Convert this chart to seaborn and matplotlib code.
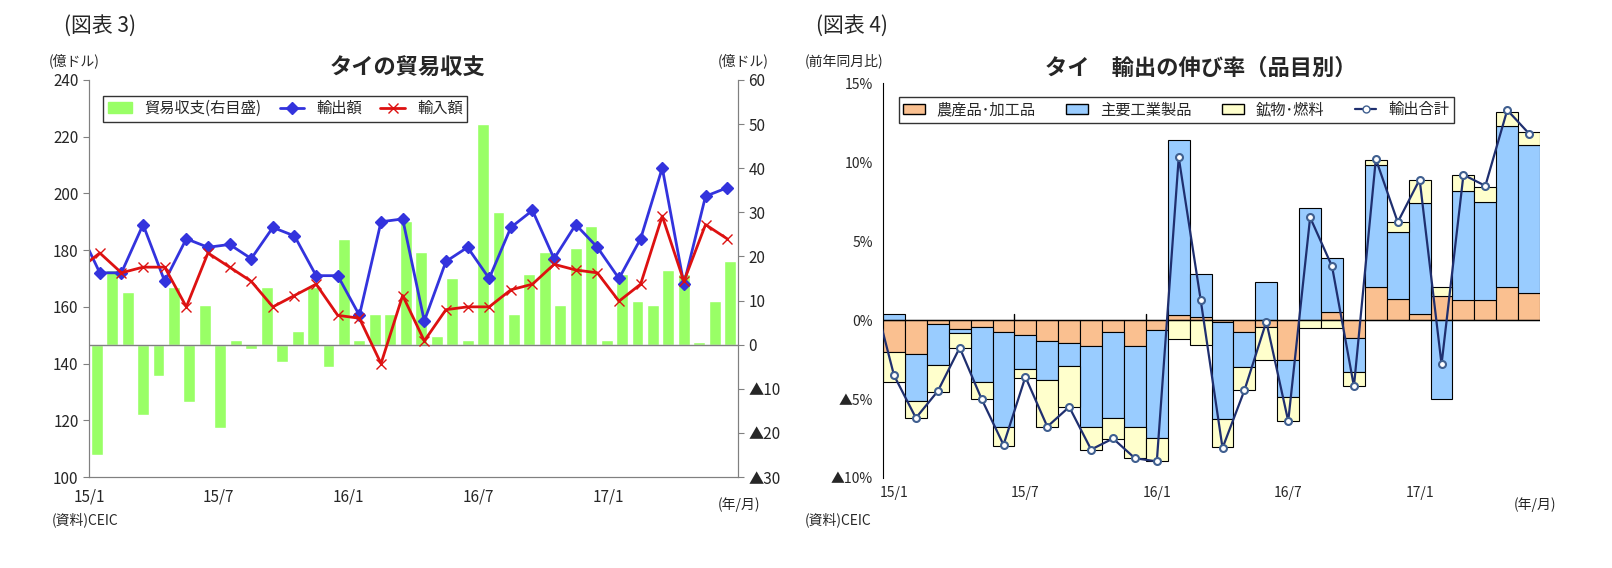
import matplotlib
matplotlib.use("Agg")
import matplotlib.pyplot as plt
import seaborn as sns
import numpy as np
from matplotlib.patches import Patch
from matplotlib.lines import Line2D

sns.set_style("white")
plt.rcParams["font.family"] = ["Noto Sans CJK JP", "DejaVu Sans"]

# ---- Chart 3 data ----
tick_labels = ["15/1", "15/7", "16/1", "16/7", "17/1"]
exports = [188, 172, 172, 189, 169, 184, 181, 182, 177, 188, 185, 171, 171, 157, 190, 191,
           155, 176, 181, 170, 188, 194, 177, 189, 181, 170, 184, 209, 168, 199, 202]
imports = [173, 179, 172, 174, 174, 160, 179, 174, 169, 160, 164, 168, 157, 156, 140, 164,
           148, 159, 160, 160, 166, 168, 175, 173, 172, 162, 168, 192, 169, 189, 184]
balance = [-25, 17, 12, -16, -7, 13, -13, 9, -19, 1, -1, 13, -4, 3, 13, -5, 24, 1, 7, 7, 28,
           21, 2, 15, 1, 50, 30, 7, 16, 21, 9, 22, 27, 1, 16, 10, 9, 17, 16, 0.5, 10, 19]

# ---- Chart 4 data ----
agri = [-2.0, -2.15, -0.25, -0.55, -0.45, -0.75, -0.95, -1.3, -1.45, -1.65, -0.75, -1.65, -0.6,
        0.3, 0.2, -0.15, -0.75, -0.45, -2.5, 0.02, 0.5, -1.15, 2.1, 1.35, 0.4, 1.5, 1.25, 1.25, 2.1, 1.7]
ind = [0.4, -2.95, -2.6, -0.3, -3.45, -6.05, -2.15, -2.5, -1.45, -5.1, -5.45, -5.15, -6.85,
       11.1, 2.7, -6.1, -2.2, 2.4, -2.4, 7.1, 3.4, -2.15, 7.75, 4.2, 7.0, -5.0, 6.95, 6.25, 10.2, 9.4]
mine = [-1.9, -1.1, -1.7, -0.95, -1.1, -1.15, -0.6, -2.95, -2.6, -1.45, -1.35, -1.95, -1.5,
        -1.2, -1.6, -1.8, -1.5, -2.05, -1.5, -0.5, -0.5, -0.9, 0.3, 0.65, 1.45, 0.6, 1.0, 0.95, 0.9, 0.8]
total = [1.9, -3.5, -6.2, -4.5, -1.75, -5.0, -7.9, -3.6, -6.75, -5.5, -8.2, -7.5, -8.75, -8.95,
         10.3, 1.3, -8.1, -4.45, -0.1, -6.4, 6.5, 3.4, -4.2, 10.2, 6.2, 8.9, -2.8, 9.2, 8.5, 13.3, 11.8]

fig = plt.figure(figsize=(16.12, 5.68), dpi=100)
G = "#99FF66"

# ===== Left chart =====
ax = fig.add_axes([0.0552, 0.1602, 0.4026, 0.699])
ax2 = ax.twinx()
ax.set_zorder(2); ax.patch.set_visible(False)
n_m = len(exports) - 1
bx = (np.arange(len(balance)) + 0.5) * n_m / len(balance)
ax2.bar(bx, balance, width=0.55, color=G, zorder=1)
ax2.axhline(0, color="#808080", lw=1)
ax2.set_ylim(-30, 60)
ax2.set_yticks(range(-30, 61, 10))
ax2.set_yticklabels([("▲%d" % -v if v < 0 else str(v)) for v in range(-30, 61, 10)], fontsize=11)
lx = np.arange(len(exports)) - 0.5
ax.plot(lx, exports, color="#3333DD", lw=2, marker="D", ms=6, clip_on=True)
ax.plot(lx, imports, color="#DD1111", lw=2, marker="x", ms=7, mec="#DD1111", clip_on=True)
ax.set_xlim(0, n_m)
ax.set_ylim(100, 240)
ax.set_yticks(range(100, 241, 20))
ax.tick_params(axis="y", labelsize=11)
ax.set_xticks([0, 6, 12, 18, 24])
ax.set_xticklabels(tick_labels, fontsize=11)
ax.tick_params(axis="x", direction="in", length=5, pad=8)
for a in (ax, ax2):
    a.spines["top"].set_visible(False)
    for s in ["left", "right", "bottom"]:
        a.spines[s].set_color("#808080")
ax.tick_params(axis="y", direction="out", length=4, color="#808080")
ax2.tick_params(axis="y", direction="out", length=4, color="#808080")
handles = [Patch(color=G, label="貿易収支(右目盛)"),
           Line2D([], [], color="#3333DD", lw=2, marker="D", ms=6, label="輸出額"),
           Line2D([], [], color="#DD1111", lw=2, marker="x", ms=7, label="輸入額")]
leg = ax.legend(handles=handles, loc="upper left", bbox_to_anchor=(0.01, 0.98), ncol=3,
                fontsize=11, frameon=True, fancybox=False, edgecolor="black",
                handlelength=1.6, columnspacing=1.2, borderpad=0.3)
leg.get_frame().set_linewidth(1)

fig.text(0.040, 0.955, "(図表 3)", fontsize=15, va="center")
fig.text(0.253, 0.880, "タイの貿易収支", fontsize=16, fontweight="bold", ha="center", va="center")
fig.text(0.030, 0.893, "(億ドル)", fontsize=10, va="center")
fig.text(0.445, 0.893, "(億ドル)", fontsize=10, va="center")
fig.text(0.032, 0.085, "(資料)CEIC", fontsize=10, va="center")
fig.text(0.445, 0.112, "(年/月)", fontsize=10, va="center")

# ===== Right chart =====
bxr = fig.add_axes([0.5478, 0.1585, 0.4076, 0.695])
n = len(agri)
x = np.arange(n)
pos_b = np.zeros(n); neg_b = np.zeros(n)
for vals, col in [(agri, "#FAC090"), (ind, "#99CCFF"), (mine, "#FFFFCC")]:
    v = np.array(vals)
    bottom = np.where(v >= 0, pos_b, neg_b)
    bxr.bar(x, v, bottom=bottom, width=1.0, color=col, edgecolor="black", lw=0.8, zorder=2)
    pos_b = pos_b + np.where(v >= 0, v, 0)
    neg_b = neg_b + np.where(v < 0, v, 0)
tx = np.arange(len(total)) - 1
bxr.plot(tx, total, color="#1F2F6F", lw=1.6, marker="o", ms=5, mfc="white", mec="#3F5F8F",
         mew=1.5, zorder=3)
bxr.set_xlim(-0.5, n - 0.5)
bxr.set_ylim(-10, 15)
yt = [-10, -5, 0, 5, 10, 15]
bxr.set_yticks(yt)
bxr.set_yticklabels([("▲%d%%" % -v if v < 0 else "%d%%" % v) for v in yt], fontsize=10)
bxr.axhline(0, color="black", lw=1, zorder=2.5)
for b in [5.5, 11.5]:
    bxr.plot([b, b], [0, 0.4], color="black", lw=1, zorder=2.5)
bxr.set_xticks([0, 6, 12, 18, 24])
bxr.set_xticklabels(tick_labels, fontsize=10)
bxr.tick_params(axis="x", length=0, pad=6)
bxr.tick_params(axis="y", direction="out", length=4)
for s in ["top", "right", "bottom"]:
    bxr.spines[s].set_visible(False)
bxr.spines["left"].set_color("black")
h2 = [Patch(facecolor="#FAC090", edgecolor="black", label="農産品･加工品"),
      Patch(facecolor="#99CCFF", edgecolor="black", label="主要工業製品"),
      Patch(facecolor="#FFFFCC", edgecolor="black", label="鉱物･燃料"),
      Line2D([], [], color="#1F2F6F", lw=1.6, marker="o", ms=5, mfc="white", mec="#3F5F8F", label="輸出合計")]
leg2 = bxr.legend(handles=h2, loc="upper left", bbox_to_anchor=(0.012, 0.985), ncol=4,
                  fontsize=11, frameon=True, fancybox=False, edgecolor="black",
                  handlelength=1.4, columnspacing=2.0, borderpad=0.3)
leg2.get_frame().set_linewidth(1)

fig.text(0.506, 0.955, "(図表 4)", fontsize=15, va="center")
fig.text(0.745, 0.880, "タイ　輸出の伸び率（品目別）", fontsize=16, fontweight="bold", ha="center", va="center")
fig.text(0.499, 0.893, "(前年同月比)", fontsize=10, va="center")
fig.text(0.499, 0.085, "(資料)CEIC", fontsize=10, va="center")
fig.text(0.939, 0.112, "(年/月)", fontsize=10, va="center")

fig.savefig("out.png", dpi=100)
